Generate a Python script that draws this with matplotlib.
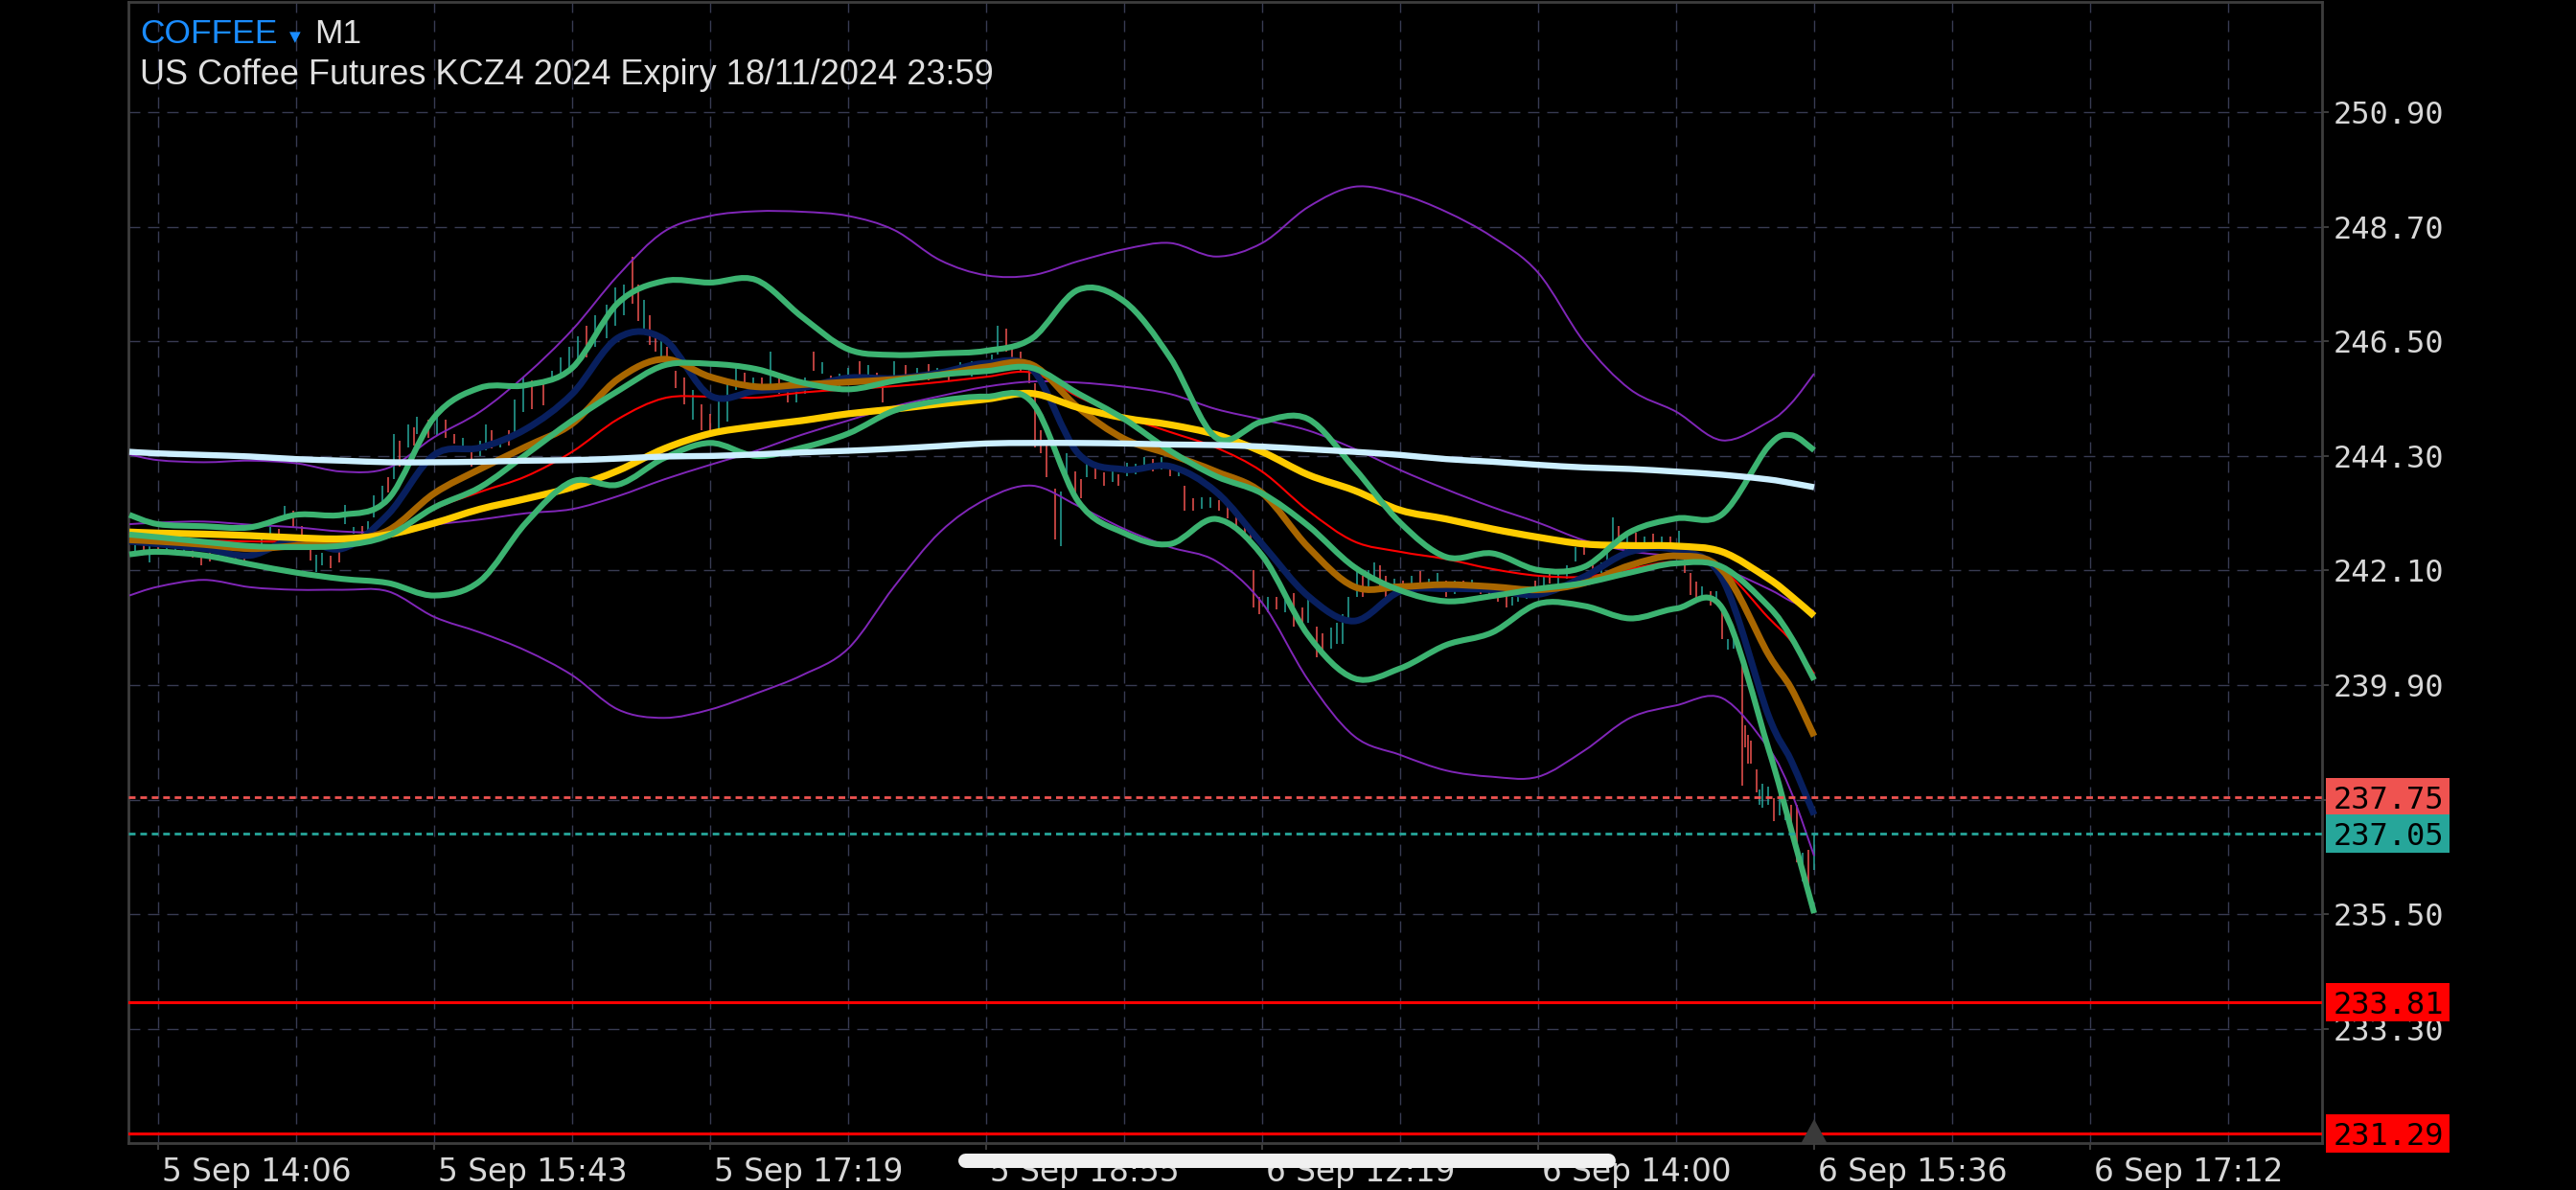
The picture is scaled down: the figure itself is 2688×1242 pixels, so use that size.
import matplotlib
matplotlib.use("Agg")
import matplotlib.pyplot as plt
import matplotlib.transforms as mtransforms
from matplotlib.patches import Rectangle, Polygon, PathPatch
from matplotlib.path import Path
from matplotlib.lines import Line2D

# ---------------- data (bar index: 1 bar = 1 minute, 0 = "5 Sep 14:06") ----------------
bars = [-10, 0, 16, 32, 48, 64, 80, 96, 112, 128, 144, 160, 176, 192, 208, 224, 240, 256, 272,
        288, 304, 320, 336, 352, 368, 384, 400, 416, 432, 448, 464, 480, 496, 512, 528, 544,
        560, 568, 576]

ma_slow_white = [244.38, 244.35, 244.32, 244.29, 244.24, 244.21, 244.18, 244.18, 244.19, 244.21,
                 244.22, 244.25, 244.29, 244.30, 244.33, 244.37, 244.40, 244.44, 244.49, 244.54,
                 244.55, 244.55, 244.54, 244.52, 244.51, 244.48, 244.43, 244.38, 244.32, 244.24,
                 244.19, 244.13, 244.08, 244.05, 244.00, 243.94, 243.85, 243.78, 243.70]

ma_yellow = [242.84, 242.82, 242.80, 242.77, 242.73, 242.71, 242.79, 243.01, 243.28, 243.48,
             243.70, 244.02, 244.44, 244.73, 244.87, 244.98, 245.11, 245.20, 245.30, 245.39,
             245.50, 245.23, 245.03, 244.90, 244.71, 244.38, 243.94, 243.64, 243.26, 243.09,
             242.90, 242.74, 242.61, 242.58, 242.57, 242.46, 241.95, 241.61, 241.23]

ma_red = [242.71, 242.71, 242.68, 242.66, 242.65, 242.65, 242.74, 243.28, 243.61, 243.91,
          244.38, 245.01, 245.41, 245.44, 245.42, 245.52, 245.58, 245.64, 245.72, 245.82,
          245.90, 245.44, 245.06, 244.76, 244.46, 244.00, 243.25, 242.66, 242.46, 242.32,
          242.13, 242.00, 241.98, 242.13, 242.27, 242.11, 241.20, 240.75, 240.12]

ma_brown = [242.69, 242.66, 242.60, 242.52, 242.58, 242.68, 242.87, 243.58, 244.05, 244.48,
            244.92, 245.78, 246.16, 245.82, 245.63, 245.67, 245.72, 245.77, 245.86, 246.01,
            246.05, 245.23, 244.63, 244.33, 244.00, 243.59, 242.55, 241.79, 241.79, 241.83,
            241.79, 241.73, 241.86, 242.20, 242.38, 242.11, 240.50, 239.84, 238.92]

ma_navy = [242.66, 242.61, 242.52, 242.39, 242.71, 242.52, 243.18, 244.32, 244.46, 244.82,
           245.49, 246.57, 246.54, 245.46, 245.55, 245.61, 245.80, 245.79, 245.90, 246.08,
           245.97, 244.35, 244.04, 244.10, 243.61, 242.61, 241.61, 241.13, 241.70, 241.75,
           241.73, 241.64, 241.98, 242.46, 242.49, 241.95, 239.33, 238.45, 237.41]

bb_green_upper = [243.17, 242.99, 242.95, 242.93, 243.17, 243.17, 243.47, 245.04, 245.61, 245.66,
                  245.99, 247.24, 247.66, 247.63, 247.68, 246.97, 246.35, 246.24, 246.27, 246.32,
                  246.56, 247.49, 247.27, 246.19, 244.65, 244.96, 245.01, 244.07, 243.02, 242.36,
                  242.43, 242.11, 242.17, 242.84, 243.10, 243.18, 244.48, 244.70, 244.41]

bb_green_mid = [242.79, 242.74, 242.65, 242.57, 242.55, 242.58, 242.77, 243.31, 243.70, 244.33,
                244.98, 245.55, 246.04, 246.07, 245.97, 245.71, 245.58, 245.74, 245.86, 245.93,
                245.99, 245.50, 245.01, 244.40, 243.91, 243.58, 242.96, 242.17, 241.72, 241.51,
                241.61, 241.75, 241.86, 242.06, 242.24, 242.17, 241.42, 240.82, 240.00]

bb_green_lower = [242.41, 242.46, 242.39, 242.22, 242.06, 241.94, 241.86, 241.62, 241.90, 243.02,
                  243.81, 243.75, 244.26, 244.55, 244.30, 244.46, 244.73, 245.17, 245.36, 245.44,
                  245.33, 243.43, 242.82, 242.61, 243.09, 242.39, 240.86, 240.03, 240.22, 240.67,
                  240.91, 241.46, 241.42, 241.18, 241.37, 241.38, 238.70, 237.13, 235.52]

bb_purple_upper = [244.33, 244.22, 244.18, 244.21, 244.16, 244.00, 244.07, 244.66, 245.15, 245.86,
                   246.72, 247.77, 248.61, 248.91, 249.00, 248.99, 248.91, 248.64, 248.06, 247.77,
                   247.77, 248.04, 248.27, 248.39, 248.13, 248.39, 249.08, 249.47, 249.33, 248.99,
                   248.51, 247.82, 246.49, 245.58, 245.15, 244.60, 244.95, 245.31, 245.88]

bb_purple_mid = [242.99, 243.02, 243.04, 242.98, 242.93, 242.85, 242.84, 242.98, 243.08, 243.20,
                 243.28, 243.53, 243.85, 244.13, 244.40, 244.71, 244.98, 245.25, 245.45, 245.63,
                 245.73, 245.71, 245.63, 245.49, 245.20, 245.00, 244.79, 244.44, 244.03, 243.66,
                 243.32, 243.02, 242.68, 242.47, 242.36, 242.14, 241.75, 241.51, 241.32]

bb_purple_lower = [241.62, 241.79, 241.92, 241.78, 241.73, 241.73, 241.70, 241.21, 240.91, 240.56,
                   240.09, 239.43, 239.27, 239.43, 239.74, 240.09, 240.60, 241.79, 242.84, 243.47,
                   243.73, 243.34, 242.90, 242.55, 242.28, 241.48, 240.00, 238.92, 238.56, 238.26,
                   238.14, 238.14, 238.64, 239.27, 239.51, 239.65, 238.70, 237.85, 236.62]

candle_bar = [-8, -5, -3, 0, 3, 6, 9, 12, 15, 18, 21, 24, 27, 30, 33, 36, 39, 42, 44, 47, 50, 53, 55,
              57, 60, 63, 65, 68, 71, 73, 75, 78, 80, 82, 84, 87, 89, 90, 94, 97, 100, 103, 106, 109,
              112, 114, 116, 119, 122, 124, 127, 130, 134, 137, 140, 143, 146, 149, 152, 156, 159,
              162, 165, 167, 169, 171, 173, 175, 177, 180, 183, 186, 189, 192, 195, 198, 201, 204,
              207, 210, 213, 216, 219, 222, 225, 228, 231, 234, 237, 240, 244, 247, 250, 252, 256,
              260, 264, 268, 271, 275, 279, 283, 287, 290, 292, 295, 297, 300, 303, 305, 307, 309,
              312, 314, 316, 319, 321, 323, 326, 329, 332, 334, 337, 340, 343, 346, 349, 352, 355,
              357, 360, 363, 366, 369, 372, 375, 378, 380, 381, 383, 386, 389, 392, 395, 398, 400,
              403, 405, 408, 410, 412, 414, 417, 419, 421, 423, 425, 427, 430, 433, 436, 439, 442,
              445, 448, 451, 454, 457, 460, 463, 466, 469, 471, 473, 476, 479, 482, 484, 487, 490,
              493, 496, 499, 502, 504, 506, 508, 511, 514, 517, 520, 523, 526, 529, 531, 533, 535,
              537, 540, 542, 544, 546, 548, 551, 552, 553, 554, 556, 557, 558, 560, 562, 564, 566,
              568, 570, 572, 574, 576]
candle_low = [242.45, 242.40, 242.26, 242.40, 242.45, 242.50, 242.44, 242.35, 242.20, 242.28, 242.30,
              242.25, 242.24, 242.24, 242.35, 242.55, 242.70, 242.65, 243.12, 242.94, 242.70, 242.30,
              242.07, 242.20, 242.14, 242.25, 242.99, 242.81, 242.80, 242.85, 243.12, 243.43, 243.60,
              243.86, 244.10, 244.46, 244.50, 244.72, 244.65, 244.70, 244.65, 244.54, 244.40, 244.10,
              244.30, 244.41, 244.45, 244.46, 244.50, 244.72, 245.14, 245.20, 245.27, 245.75, 245.80,
              245.90, 246.10, 246.20, 246.40, 246.56, 246.80, 247.00, 247.22, 246.90, 246.70, 246.43,
              246.30, 246.12, 246.12, 245.60, 245.30, 245.00, 244.80, 244.72, 244.80, 244.96, 245.57,
              245.60, 245.57, 245.50, 245.57, 245.50, 245.33, 245.33, 245.50, 245.93, 245.88, 245.57,
              245.60, 245.70, 245.75, 245.80, 245.65, 245.33, 245.75, 245.80, 245.80, 245.75, 245.80,
              245.75, 245.85, 245.82, 245.90, 245.95, 246.25, 246.30, 246.00, 245.90, 245.70, 244.46,
              244.35, 243.90, 242.70, 242.57, 243.86, 243.60, 243.49, 243.90, 243.85, 243.73, 243.80,
              243.73, 243.91, 243.95, 244.04, 244.00, 244.04, 243.91, 243.91, 243.25, 243.25, 243.28,
              243.30, 243.25, 243.10, 242.88, 242.79, 242.60, 241.40, 241.26, 241.30, 241.35, 241.30,
              241.02, 241.02, 241.10, 240.43, 240.50, 240.60, 240.69, 240.69, 241.10, 241.59, 241.60,
              241.70, 241.92, 241.80, 241.59, 241.70, 241.70, 241.75, 241.80, 241.70, 241.75, 241.59,
              241.65, 241.70, 241.70, 241.65, 241.60, 241.50, 241.39, 241.43, 241.50, 241.55, 241.65,
              241.75, 241.85, 241.85, 241.95, 242.27, 242.40, 242.05, 242.05, 242.20, 242.55, 242.55,
              242.50, 242.55, 242.55, 242.55, 242.55, 242.50, 242.60, 242.06, 241.63, 241.52, 241.60,
              241.43, 241.55, 240.78, 240.58, 240.60, 237.97, 238.70, 238.39, 238.39, 237.84, 237.60,
              237.55, 237.60, 237.29, 237.40, 237.30, 237.25, 236.50, 236.13, 236.07, 236.35]
candle_high = [242.70, 242.62, 242.57, 242.65, 242.68, 242.72, 242.70, 242.58, 242.38, 242.50, 242.52,
               242.45, 242.38, 242.40, 242.60, 242.80, 242.94, 242.90, 243.34, 243.25, 242.95, 242.62,
               242.40, 242.44, 242.38, 242.45, 243.36, 242.94, 242.95, 243.05, 243.54, 243.73, 243.90,
               244.72, 244.60, 244.90, 244.85, 245.05, 245.00, 245.09, 245.00, 244.72, 244.65, 244.46,
               244.60, 244.90, 244.80, 244.65, 244.80, 245.38, 245.82, 245.75, 245.75, 245.93, 246.20,
               246.40, 246.60, 246.80, 247.00, 247.20, 247.54, 247.60, 248.12, 247.60, 247.30, 247.00,
               246.67, 246.55, 246.40, 245.93, 245.80, 245.57, 245.30, 245.10, 245.40, 245.70, 246.06,
               245.90, 245.80, 245.80, 246.30, 245.80, 245.57, 245.55, 245.80, 246.30, 246.10, 245.85,
               245.88, 246.00, 246.12, 246.05, 245.90, 245.70, 246.12, 246.05, 246.00, 246.06, 246.00,
               245.95, 246.10, 246.12, 246.10, 246.25, 246.80, 246.75, 246.40, 246.30, 246.06, 245.70,
               244.80, 244.59, 243.67, 243.62, 244.35, 244.00, 243.86, 244.22, 244.10, 243.98, 244.00,
               243.95, 244.17, 244.15, 244.28, 244.25, 244.28, 244.04, 244.04, 243.73, 243.49, 243.50,
               243.50, 243.45, 243.43, 243.20, 242.98, 242.85, 242.10, 241.59, 241.59, 241.60, 241.60,
               241.67, 241.40, 241.59, 241.02, 240.90, 241.00, 241.10, 241.26, 241.59, 242.16, 242.00,
               242.10, 242.25, 242.20, 242.00, 241.95, 241.90, 242.00, 242.09, 241.95, 242.05, 241.90,
               241.90, 241.90, 241.92, 241.85, 241.80, 241.70, 241.63, 241.60, 241.70, 241.80, 241.90,
               242.00, 242.13, 242.10, 242.20, 242.55, 242.68, 242.20, 242.25, 242.50, 243.12, 242.95,
               242.80, 242.83, 242.75, 242.80, 242.75, 242.75, 242.86, 242.34, 242.06, 241.89, 241.80,
               241.70, 241.70, 241.43, 240.78, 240.78, 240.51, 239.13, 238.94, 238.83, 238.28, 237.90,
               238.00, 237.95, 237.73, 237.80, 237.70, 237.60, 237.60, 236.68, 236.74, 237.05]
candle_up = [1, 0, 1, 0, 1, 1, 1, 0, 0, 0, 1, 0, 0, 0, 1, 1, 1, 0, 1, 0, 0, 0, 1, 1, 0, 0, 1, 1, 0, 1,
             1, 1, 0, 1, 0, 1, 0, 1, 0, 1, 0, 0, 1, 0, 1, 1, 0, 1, 0, 1, 1, 0, 0, 1, 1, 1, 1, 0, 1, 1,
             1, 1, 0, 0, 1, 0, 0, 1, 0, 0, 0, 1, 0, 0, 1, 1, 1, 0, 1, 0, 1, 0, 0, 1, 1, 0, 1, 0, 1, 1,
             0, 1, 0, 0, 1, 0, 1, 0, 1, 0, 1, 1, 0, 1, 1, 0, 0, 0, 0, 0, 0, 0, 0, 1, 1, 0, 0, 1, 0, 0,
             1, 0, 1, 1, 1, 0, 1, 0, 1, 0, 0, 1, 1, 0, 0, 0, 0, 0, 0, 0, 1, 0, 1, 0, 0, 1, 0, 0, 1, 1,
             1, 1, 1, 0, 1, 1, 0, 0, 1, 0, 1, 0, 1, 1, 0, 1, 0, 1, 0, 0, 0, 0, 1, 1, 1, 0, 1, 0, 1, 1,
             1, 0, 0, 1, 1, 1, 0, 1, 0, 1, 0, 1, 0, 1, 0, 0, 0, 1, 0, 1, 0, 1, 1, 0, 0, 0, 0, 0, 1, 1,
             1, 0, 1, 1, 0, 0, 1, 0, 1]

y_ticks = [250.90, 248.70, 246.50, 244.30, 242.10, 239.90, 237.70, 235.50, 233.30]
x_major = [0, 96, 192, 288, 384, 480, 576, 672]
x_labels = ["5 Sep 14:06", "5 Sep 15:43", "5 Sep 17:19", "5 Sep 18:55",
            "6 Sep 12:19", "6 Sep 14:00", "6 Sep 15:36", "6 Sep 17:12"]
x_minor = [48, 144, 240, 336, 432, 528, 624, 720]
ask_price = 237.75
bid_price = 237.05
level_prices = [233.81, 231.29]
last_bar = 576

# ---------------- styling ----------------
plt.rcParams['lines.scale_dashes'] = False
UP = '#26a69a'
DOWN = '#ef5350'
GREEN = '#3cb371'
PURPLE = '#8026b8'
GRID = '#383b52'
FRAME = '#3d3d3d'
TXT = '#d8d8d8'
SANS = ['Liberation Sans', 'DejaVu Sans']
MONO = ['DejaVu Sans Mono', 'DejaVu Sans']

fig = plt.figure(figsize=(26.88, 12.42), dpi=100, facecolor='black')
ax = fig.add_axes([0.049851, 0.039452, 0.851563, 0.958937])
ax.set_facecolor('black')
ax.set_xlim(-10.33, 752.67)
ax.set_ylim(231.105, 253.02)

ax.set_xticks(x_major)
ax.set_xticks(x_minor, minor=True)
ax.set_yticks(y_ticks)
ax.yaxis.tick_right()
ax.grid(which='both', color=GRID, linestyle=(0, (8.6, 5.8)), linewidth=1.0)
ax.set_axisbelow(True)
ax.tick_params(axis='x', which='major', direction='out', length=5, width=1.4, color=FRAME,
               labelbottom=False)
ax.tick_params(axis='x', which='minor', length=0)
ax.tick_params(axis='y', which='major', direction='out', length=5, width=1.4, color=FRAME,
               labelright=False, labelleft=False)
for s in ax.spines.values():
    s.set_color(FRAME)
    s.set_linewidth(2)

# candles
ccols = [UP if u else DOWN for u in candle_up]
ax.vlines(candle_bar, candle_low, candle_high, colors=ccols, linewidth=1.1, zorder=2)


# indicator lines, rendered as smooth curves through the read points
def smooth_line(xs, ys, color, lw, z):
    pts = list(zip(xs, ys))
    n = len(pts)
    verts = [pts[0]]
    codes = [Path.MOVETO]
    for i in range(n - 1):
        p0 = pts[i - 1] if i > 0 else pts[i]
        p1 = pts[i]
        p2 = pts[i + 1]
        p3 = pts[i + 2] if i + 2 < n else pts[i + 1]
        c1 = (p1[0] + (p2[0] - p0[0]) / 6.0, p1[1] + (p2[1] - p0[1]) / 6.0)
        c2 = (p2[0] - (p3[0] - p1[0]) / 6.0, p2[1] - (p3[1] - p1[1]) / 6.0)
        verts += [c1, c2, p2]
        codes += [Path.CURVE4] * 3
    patch = PathPatch(Path(verts, codes), facecolor='none', edgecolor=color, linewidth=lw,
                      capstyle='butt', joinstyle='round', zorder=z)
    ax.add_patch(patch)


smooth_line(bars, bb_purple_upper, PURPLE, 1.4, 3)
smooth_line(bars, bb_purple_mid, PURPLE, 1.4, 3)
smooth_line(bars, bb_purple_lower, PURPLE, 1.4, 3)
smooth_line(bars, ma_red, '#ff0000', 1.5, 3.5)
smooth_line(bars, ma_navy, '#081f5e', 5.0, 4)
smooth_line(bars, ma_brown, '#a86600', 5.0, 4.2)
smooth_line(bars, ma_yellow, '#ffcc00', 5.2, 4.4)
smooth_line(bars, bb_green_upper, GREEN, 4.4, 4.6)
smooth_line(bars, bb_green_mid, GREEN, 4.4, 4.6)
smooth_line(bars, bb_green_lower, GREEN, 4.4, 4.6)
smooth_line(bars, ma_slow_white, '#ccefff', 4.6, 5)

# price lines
ax.axhline(ask_price, color=DOWN, lw=2.0, linestyle=(0, (5.0, 3.6)), zorder=6)
ax.axhline(bid_price, color=UP, lw=2.0, linestyle=(0, (5.0, 3.6)), zorder=6)
for lv in level_prices:
    ax.axhline(lv, color='#ff0000', lw=2.2, zorder=6)

# axis labels (right)
ytf = mtransforms.blended_transform_factory(ax.transAxes, ax.transData)
yoff = mtransforms.ScaledTranslation(0.12, -0.12, fig.dpi_scale_trans)
for v in y_ticks:
    ax.text(1.0, v, f"{v:.2f}", transform=ytf + yoff, color=TXT, fontsize=23,
            family=MONO, ha='left', va='baseline', zorder=3)

# price boxes
box_h = 40 / (1191 / (253.02 - 231.105))
for price, col in [(ask_price, DOWN), (bid_price, UP),
                   (level_prices[0], '#ff0000'), (level_prices[1], '#ff0000')]:
    ax.add_patch(Rectangle((1.00175, price - box_h / 2), 0.05636, box_h, transform=ytf,
                           facecolor=col, edgecolor='none', clip_on=False, zorder=10))
    ax.text(1.0, price, f"{price:.2f}", transform=ytf + yoff, color='black', fontsize=23,
            family=MONO, ha='left', va='baseline', zorder=11)

# time labels (bottom)
xtf = mtransforms.blended_transform_factory(ax.transData, ax.transAxes)
xoff = mtransforms.ScaledTranslation(0.04, -0.135, fig.dpi_scale_trans)
for b, lab in zip(x_major, x_labels):
    ax.text(b, 0.0, lab, transform=xtf + xoff, color=TXT, fontsize=23.6,
            family=['DejaVu Sans'], ha='left', va='top', zorder=3)

# last-bar marker
ax.add_patch(Polygon([(last_bar - 4.5, 0.0), (last_bar + 4.5, 0.0), (last_bar, 0.021)],
                     closed=True, transform=xtf, facecolor='#3a3a3a', edgecolor='none',
                     clip_on=False, zorder=7))

# header
fig.text(146 / 2688, 1 - 45 / 1242, "COFFEE", color='#1a8cff', fontsize=25.5, family=SANS,
         ha='left', va='baseline')
fig.text(302 / 2688, 1 - 43 / 1242, "\u25BC", color='#1a8cff', fontsize=11,
         family=['DejaVu Sans'], ha='left', va='baseline')
fig.text(328 / 2688, 1 - 45 / 1242, "M1", color='#e0e0e0', fontsize=25.5, family=SANS,
         ha='left', va='baseline')
fig.text(146 / 2688, 1 - 88 / 1242, "US Coffee Futures KCZ4 2024 Expiry 18/11/2024 23:59",
         color='#e0e0e0', fontsize=26, family=SANS, ha='left', va='baseline')

# home indicator pill
fig.add_artist(Line2D([0.3748, 0.6241], [0.02536, 0.02536], transform=fig.transFigure,
                      color='#f0f0f0', lw=10.8, solid_capstyle='round', zorder=20))

fig.savefig('out.png', dpi=100, facecolor='black')
